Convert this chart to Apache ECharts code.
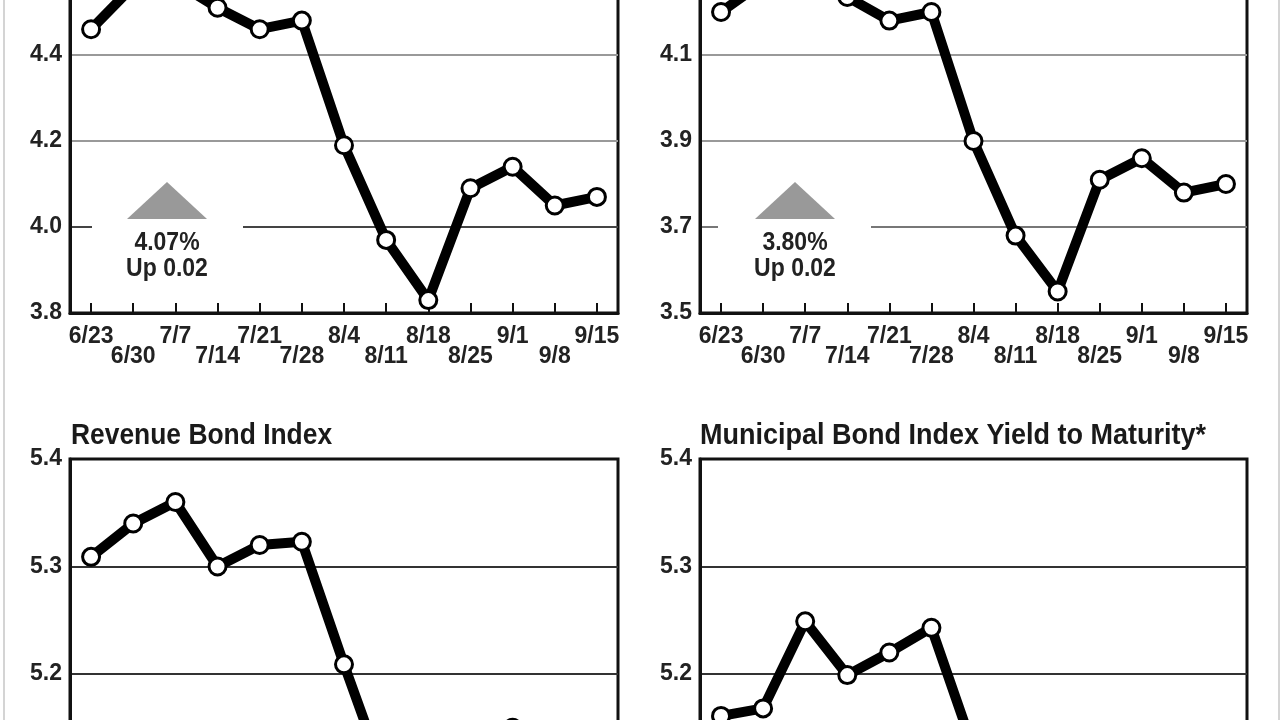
<!DOCTYPE html>
<html>
<head>
<meta charset="utf-8">
<script src="https://cdn.jsdelivr.net/npm/echarts@6/dist/echarts.min.js"></script>
<style>
html,body{margin:0;padding:0;background:#fff;}
#c{width:1280px;height:720px;}
</style>
</head>
<body>
<div id="c"></div>
<script>
// Data
const weeks = ['6/23','6/30','7/7','7/14','7/21','7/28','8/4','8/11','8/18','8/25','9/1','9/8','9/15'];
const bondBuyer20 = [4.46, 4.56, 4.57, 4.51, 4.46, 4.48, 4.19, 3.97, 3.83, 4.09, 4.14, 4.05, 4.07];
const bondBuyer11 = [4.20, 4.27, 4.28, 4.235, 4.18, 4.20, 3.90, 3.68, 3.55, 3.81, 3.86, 3.78, 3.80];
const revenueBond = [5.309, 5.34, 5.36, 5.30, 5.32, 5.323, 5.209, 5.10, 5.02, 5.12, 5.15, 5.11, 5.12];
const municipalYTM = [5.161, 5.168, 5.249, 5.199, 5.22, 5.243, 5.13, 5.05, 5.00, 5.08, 5.10, 5.06, 5.08];
const topLeftTicks = {min: 3.8, max: 4.6, interval: 0.2};
const topRightTicks = {min: 3.5, max: 4.3, interval: 0.2};
const bottomTicks = {min: 5.0, max: 5.4, interval: 0.1};
const titles = ['Revenue Bond Index', 'Municipal Bond Index Yield to Maturity*'];
const notes = [['4.07%', 'Up 0.02'], ['3.80%', 'Up 0.02']];

const LABEL_FONT = "'Liberation Sans', Arial, sans-serif";

const grids = [
  {left: 70, width: 548, top: -31, height: 344},
  {left: 700, width: 547, top: -31, height: 344},
  {left: 70, width: 548, top: 459, height: 430},
  {left: 700, width: 547, top: 459, height: 430}
];
grids.forEach(g => {
  g.show = true; g.borderColor = '#111'; g.borderWidth = 3; g.backgroundColor = 'transparent';
  g.containLabel = false; g.outerBoundsMode = 'none';
});

function xAxis(i) {
  return {
    type: 'category', gridIndex: i, data: weeks, boundaryGap: true,
    axisLine: {show: true, lineStyle: {color: '#111', width: 3}},
    axisTick: {show: true, inside: true, alignWithLabel: true, length: 10, lineStyle: {color: '#111', width: 2}},
    axisLabel: {
      interval: 0, margin: 14, fontFamily: LABEL_FONT, fontWeight: 'bold', fontSize: 23,
      color: '#222', lineHeight: 20, hideOverlap: false,
      formatter: (v, idx) => (idx % 2 ? '\n' + v : v)
    },
    splitLine: {show: false}
  };
}
function yAxis(i, t, decimals, colors, width) {
  return {
    type: 'value', gridIndex: i, min: t.min, max: t.max, interval: t.interval,
    axisLine: {show: true, lineStyle: {color: '#111', width: 3}},
    axisTick: {show: false},
    axisLabel: {
      margin: 8, fontFamily: LABEL_FONT, fontWeight: 'bold', fontSize: 23, color: '#222',
      padding: [5, 0, 0, 0],
      formatter: v => v.toFixed(decimals)
    },
    splitLine: {show: true, lineStyle: {color: colors, width: width}}
  };
}
function lineSeries(i, data) {
  return {
    type: 'line', xAxisIndex: i, yAxisIndex: i, data: data,
    symbol: 'circle', symbolSize: 17, showAllSymbol: true,
    lineStyle: {color: '#000', width: 10, join: 'round', cap: 'round'},
    itemStyle: {color: '#fff', borderColor: '#000', borderWidth: 3},
    z: 5, animation: false
  };
}

function note(cx, gapL, gapR, gridY, texts) {
  return [
    {type: 'rect', shape: {x: gapL, y: gridY - 4, width: gapR - gapL, height: 8}, style: {fill: '#fff'}, z: 10},
    {type: 'polygon', shape: {points: [[cx - 40, 219], [cx, 182], [cx + 40, 219]]}, style: {fill: '#999'}, z: 10},
    {type: 'text', x: cx, y: 243, scaleX: 0.92, style: {text: texts[0], font: "bold 25px " + LABEL_FONT, fill: '#222', textAlign: 'center', textVerticalAlign: 'middle'}, z: 10},
    {type: 'text', x: cx, y: 269, scaleX: 0.92, style: {text: texts[1], font: "bold 25px " + LABEL_FONT, fill: '#222', textAlign: 'center', textVerticalAlign: 'middle'}, z: 10}
  ];
}

const chart = echarts.init(document.getElementById('c'), null, {renderer: 'canvas'});
chart.setOption({
  backgroundColor: '#fff',
  animation: false,
  grid: grids,
  xAxis: [xAxis(0), xAxis(1), xAxis(2), xAxis(3)],
  yAxis: [
    yAxis(0, topLeftTicks, 1, ['#111', '#444', '#999', '#999', '#111'], 2),
    yAxis(1, topRightTicks, 1, ['#111', '#777', '#999', '#999', '#111'], 2),
    yAxis(2, bottomTicks, 1, ['#111', '#333', '#333', '#333', '#111'], 2),
    yAxis(3, bottomTicks, 1, ['#111', '#333', '#333', '#333', '#111'], 2)
  ],
  series: [
    lineSeries(0, bondBuyer20),
    lineSeries(1, bondBuyer11),
    lineSeries(2, revenueBond),
    lineSeries(3, municipalYTM)
  ],
  graphic: [
    {type: 'line', shape: {x1: 4, y1: 0, x2: 4, y2: 720}, style: {stroke: '#d4d4d4', lineWidth: 2}},
    {type: 'line', shape: {x1: 1279, y1: 0, x2: 1279, y2: 720}, style: {stroke: '#d4d4d4', lineWidth: 2}},
    {type: 'text', x: 71, y: 436, scaleX: 0.88, style: {text: titles[0], font: "bold 30px " + LABEL_FONT, fill: '#1a1a1a', textAlign: 'left', textVerticalAlign: 'middle'}},
    {type: 'text', x: 700, y: 436, scaleX: 0.9, style: {text: titles[1], font: "bold 30px " + LABEL_FONT, fill: '#1a1a1a', textAlign: 'left', textVerticalAlign: 'middle'}}
  ].concat(note(167, 92, 243, 227, notes[0])).concat(note(795, 718, 871, 227, notes[1]))
});
</script>
</body>
</html>
